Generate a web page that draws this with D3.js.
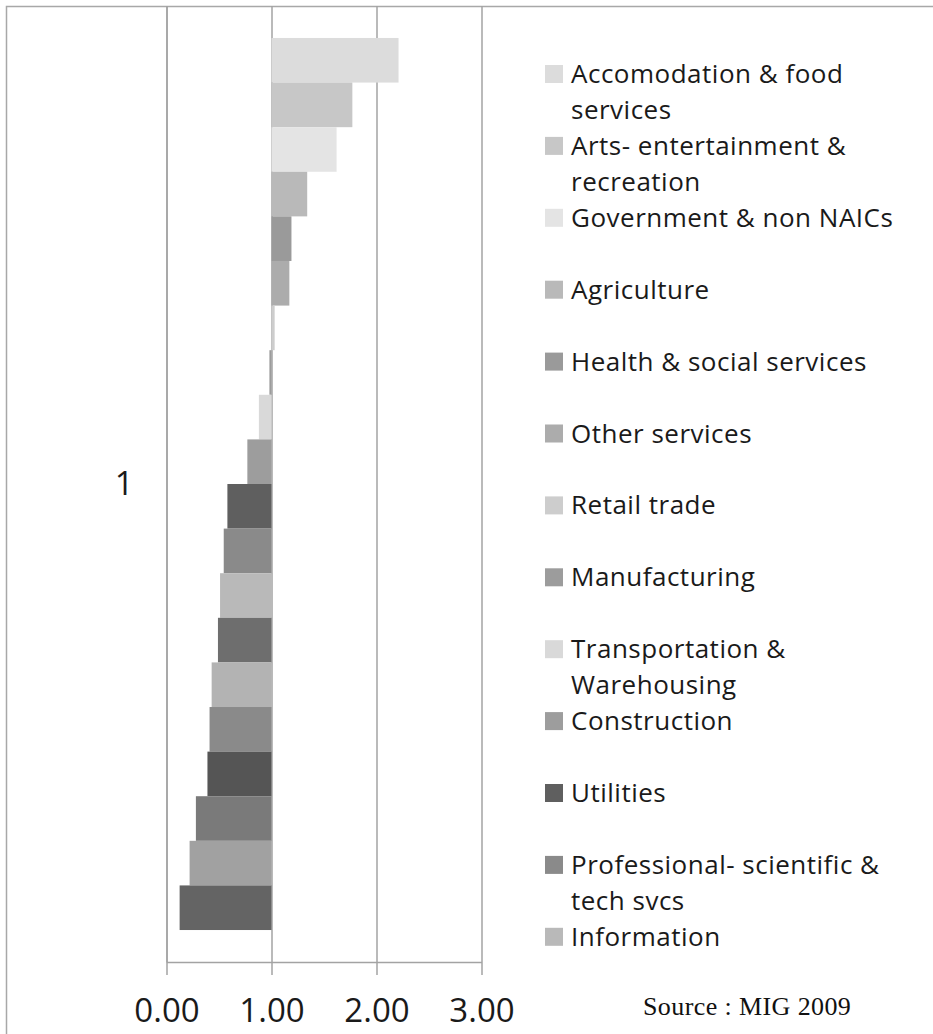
<!DOCTYPE html>
<html>
<head>
<meta charset="utf-8">
<script src="https://cdn.jsdelivr.net/npm/d3@7"></script>
<style>
  html, body { margin: 0; padding: 0; background: #fff; }
  svg { display: block; }
</style>
</head>
<body>
<svg id="chart" width="933" height="1034"></svg>
<script>
// ---- data ----
const groups = ["1"];
const categories = [
  "Accomodation & food services",
  "Arts- entertainment & recreation",
  "Government & non NAICs",
  "Agriculture",
  "Health & social services",
  "Other services",
  "Retail trade",
  "Manufacturing",
  "Transportation & Warehousing",
  "Construction",
  "Utilities",
  "Professional- scientific & tech svcs",
  "Information",
  "Series 14",
  "Series 15",
  "Series 16",
  "Series 17",
  "Series 18",
  "Series 19",
  "Series 20"
];
const values = [2.21, 1.77, 1.62, 1.34, 1.19, 1.17, 1.03, 0.98, 0.88, 0.77,
                0.58, 0.545, 0.51, 0.49, 0.43, 0.41, 0.39, 0.28, 0.22, 0.125];
const colors = ["#dcdcdc", "#c7c7c7", "#e4e4e4", "#b9b9b9", "#9a9a9a", "#acacac",
                "#cdcdcd", "#9c9c9c", "#d9d9d9", "#9d9d9d", "#5f5f5f", "#8a8a8a",
                "#b9b9b9", "#6e6e6e", "#b3b3b3", "#8a8a8a", "#555555", "#7a7a7a",
                "#a1a1a1", "#646464"];
const xTicks = [0, 1, 2, 3];
const baseline = 1;
const sourceText = "Source : MIG 2009";

// ---- layout ----
const svg = d3.select("#chart");
const plot = { left: 166.5, right: 481.5, top: 6, bottom: 962 };
const gridColor = "#a3a3a3";

// outer border
svg.append("rect")
  .attr("x", 6.5).attr("y", 6.5)
  .attr("width", 960).attr("height", 1060)
  .attr("fill", "none").attr("stroke", "#a8a8a8").attr("stroke-width", 1.5);

const x = d3.scaleLinear().domain([0, 3]).range([plot.left, plot.right]);
const yOuter = d3.scaleBand().domain(groups).range([plot.top, plot.bottom])
  .paddingInner(0.0346).paddingOuter(0.0346);
const yInner = d3.scaleBand().domain(categories).range([0, yOuter.bandwidth()]);

// gridlines
const grid = svg.append("g").attr("transform", `translate(0,${plot.bottom})`)
  .call(d3.axisBottom(x).tickValues(xTicks).tickSize(-(plot.bottom - plot.top)).tickFormat(""));
grid.select(".domain").remove();
grid.selectAll("line").attr("stroke", gridColor).attr("stroke-width", 1.5);

// bars
const gBars = svg.append("g");
groups.forEach(gname => {
  gBars.selectAll("rect.bar")
    .data(values.map((v, i) => ({ v, i, c: categories[i] })))
    .join("rect")
    .attr("class", "bar")
    .attr("x", d => x(Math.min(d.v, baseline)))
    .attr("width", d => Math.abs(x(d.v) - x(baseline)))
    .attr("y", d => yOuter(gname) + yInner(d.c))
    .attr("height", yInner.bandwidth())
    .attr("fill", (d, i) => colors[i]);
});

// y axis
const yAxis = svg.append("g").attr("transform", `translate(${plot.left},0)`)
  .call(d3.axisLeft(yOuter).tickSize(0).tickPadding(33));
yAxis.select(".domain").attr("stroke", gridColor).attr("stroke-width", 1.5);
yAxis.selectAll("text")
  .attr("font-family", "'Open Sans', sans-serif").attr("font-size", 33)
  .attr("fill", "#1a1a1a").attr("dy", "0.32em");

// x axis
const xAxis = svg.append("g").attr("transform", `translate(0,${plot.bottom})`)
  .call(d3.axisBottom(x).tickValues(xTicks).tickSizeInner(13).tickSizeOuter(0)
    .tickFormat(d3.format(".2f")));
xAxis.select(".domain").attr("stroke", gridColor).attr("stroke-width", 1.5);
xAxis.selectAll("line").attr("stroke", gridColor).attr("stroke-width", 1.5);
xAxis.selectAll("text")
  .attr("font-family", "'Open Sans', sans-serif").attr("font-size", 33)
  .attr("fill", "#1a1a1a").attr("y", 60).attr("dy", 0);

// legend
const legend = svg.append("g");
const legX = 545, legTextX = 571, legTop = 74, legStep = 71.9, legMaxW = 345, legLimit = 950;
const legFont = 26, lineH = 36;
categories.forEach((name, i) => {
  const cy = legTop + i * legStep;
  if (cy > legLimit) return;
  legend.append("rect")
    .attr("x", legX).attr("y", cy - 9).attr("width", 18).attr("height", 18)
    .attr("fill", colors[i]);
  const t = legend.append("text")
    .attr("x", legTextX).attr("y", cy + 9)
    .attr("font-family", "'Open Sans', sans-serif").attr("font-size", legFont)
    .attr("letter-spacing", 0.5)
    .attr("fill", "#1a1a1a");
  const words = name.split(" ");
  let line = [];
  let ts = t.append("tspan").attr("x", legTextX).attr("dy", 0);
  words.forEach(w => {
    line.push(w);
    ts.text(line.join(" "));
    if (ts.node().getComputedTextLength() > legMaxW && line.length > 1) {
      line.pop();
      ts.text(line.join(" "));
      line = [w];
      ts = t.append("tspan").attr("x", legTextX).attr("dy", lineH).text(w);
    }
  });
});

// source
svg.append("text")
  .attr("x", 643).attr("y", 1015)
  .attr("font-family", "'Liberation Serif', serif").attr("font-size", 26)
  .attr("letter-spacing", 0.4)
  .attr("fill", "#111")
  .text(sourceText);
</script>
</body>
</html>
